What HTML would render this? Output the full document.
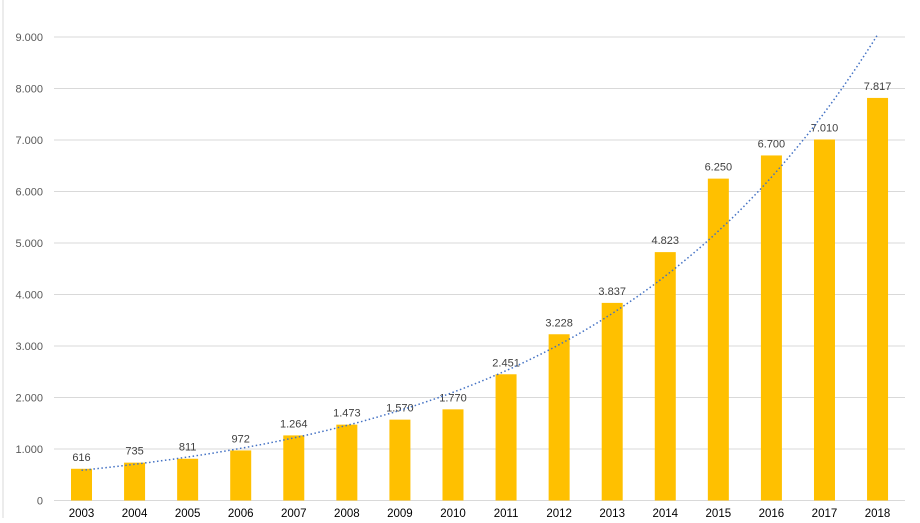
<!DOCTYPE html>
<html><head><meta charset="utf-8"><style>
body{margin:0;background:#fff;}
svg text{font-family:"Liberation Sans",Arial,sans-serif;}
</style></head><body>
<svg width="920" height="518" xmlns="http://www.w3.org/2000/svg">
<line x1="3" y1="0" x2="3" y2="518" stroke="#d9d9d9"/>
<g id="grid"></g><g id="bars"></g><g id="labels"></g><g id="trend"></g>
</svg>
<script>
const categories=["2003","2004","2005","2006","2007","2008","2009","2010","2011","2012","2013","2014","2015","2016","2017","2018"];
const values=[616,735,811,972,1264,1473,1570,1770,2451,3228,3837,4823,6250,6700,7010,7817];
const valueLabels=["616","735","811","972","1.264","1.473","1.570","1.770","2.451","3.228","3.837","4.823","6.250","6.700","7.010","7.817"];
const yTicks=[0,1000,2000,3000,4000,5000,6000,7000,8000,9000];
const yTickLabels=["0","1.000","2.000","3.000","4.000","5.000","6.000","7.000","8.000","9.000"];
const NS="http://www.w3.org/2000/svg";
const y0=500.5,y9=37,x0=81.5,step=53.07,bw=21,gl=54,gr=905;
const y=v=>y0-(y0-y9)*v/9000;
const x=i=>x0+i*step;
function mk(t,a,p){const e=document.createElementNS(NS,t);for(const k in a)e.setAttribute(k,a[k]);p.appendChild(e);return e;}
const grid=document.getElementById('grid');
yTicks.forEach((v,i)=>{
 const l=mk('line',{x1:gl,x2:gr,y1:y(v),y2:y(v),stroke:'#d9d9d9','stroke-width':1},grid);
 
 
 const t=mk('text',{x:43,y:y(v)+4,'text-anchor':'end','font-size':11,fill:'#595959'},grid);
 t.textContent=yTickLabels[i];
 
 
});
const bars=document.getElementById('bars'),labels=document.getElementById('labels');
values.forEach((v,i)=>{
 const r=mk('rect',{x:x(i)-bw/2,y:y(v),width:bw,height:y0-y(v),fill:'#ffc000'},bars);
 
 
 const t=mk('text',{x:x(i),y:y(v)-8,'text-anchor':'middle','font-size':11,fill:'#404040'},labels);
 t.textContent=valueLabels[i];
 
 
 const c=mk('text',{x:x(i),y:517,'text-anchor':'middle','font-size':11.5,fill:'#000'},labels);
 c.textContent=categories[i];
 
 
});
// exponential least-squares trendline
const n=values.length;let sx=0,sy=0,sxx=0,sxy=0;
values.forEach((v,i)=>{const l=Math.log(v);sx+=i;sy+=l;sxx+=i*i;sxy+=i*l;});
const b=(n*sxy-sx*sy)/(n*sxx-sx*sx),a=(sy-b*sx)/n;
let d='';for(let k=0;k<=150;k++){const i=k*(n-1)/150;d+=(k?'L':'M')+x(i).toFixed(1)+','+y(Math.exp(a+b*i)).toFixed(1);}
const p=mk('path',{d:d,fill:'none',stroke:'#4472c4','stroke-width':1.5,'stroke-dasharray':'1.5,2.5'},document.getElementById('trend'));


</script>
</body></html>
